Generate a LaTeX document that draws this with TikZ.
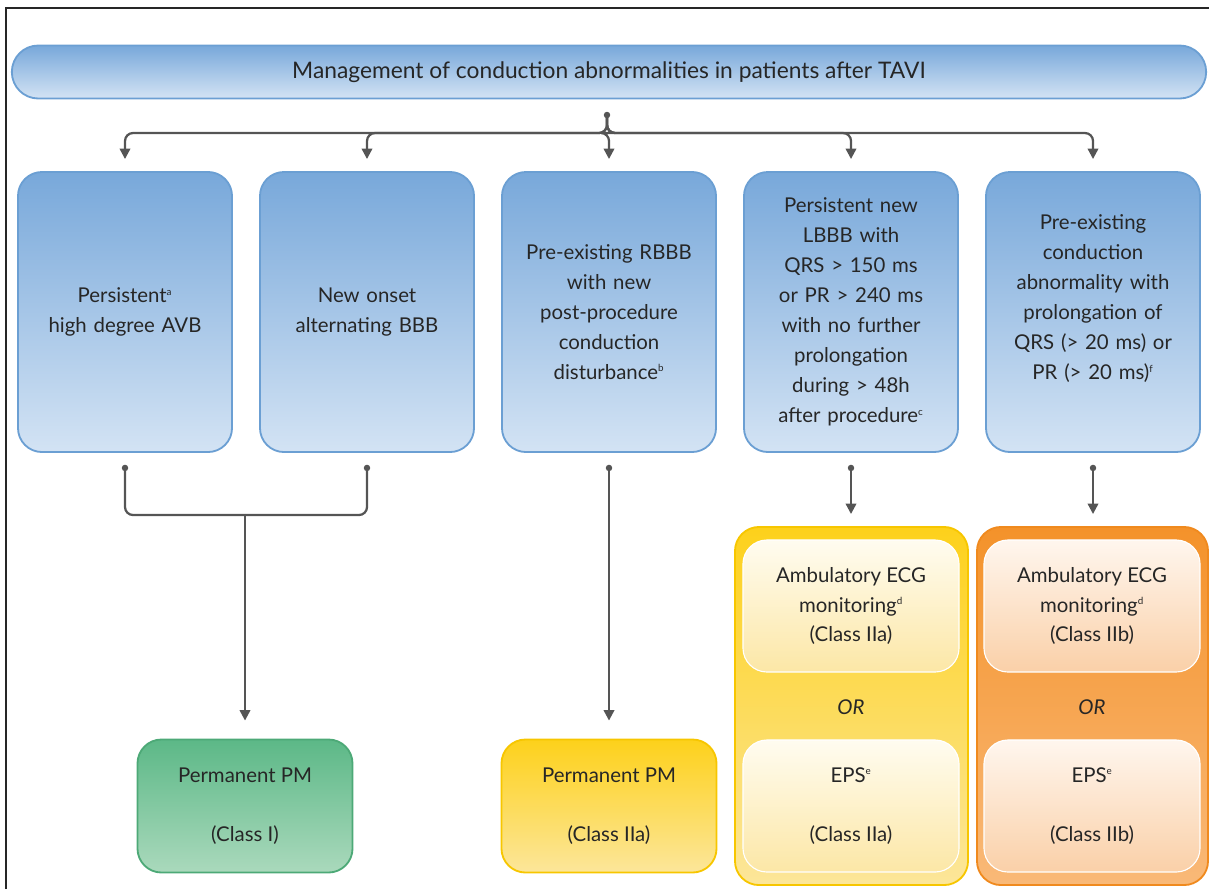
\documentclass[tikz,border=0pt]{standalone}
\usepackage{fontspec}
\setmainfont{Lato}
\usetikzlibrary{positioning,arrows.meta}

\definecolor{blueedge}{HTML}{6B9FD3}
\definecolor{bluetop}{HTML}{78A8DA}
\definecolor{bluebot}{HTML}{D3E3F4}
\definecolor{greenedge}{HTML}{4DA977}
\definecolor{greentop}{HTML}{5CB887}
\definecolor{greenbot}{HTML}{AAD9BC}
\definecolor{yellowedge}{HTML}{F7C600}
\definecolor{yellowtop}{HTML}{FDD11B}
\definecolor{yellowbot}{HTML}{FCE69A}
\definecolor{orangeedge}{HTML}{F08A1E}
\definecolor{orangetop}{HTML}{F4922A}
\definecolor{orangebot}{HTML}{F9B978}
\definecolor{creamtop}{HTML}{FFFCF0}
\definecolor{creambot}{HTML}{FCE7A6}
\definecolor{peachtop}{HTML}{FFF6EE}
\definecolor{peachbot}{HTML}{FAD0A8}
\definecolor{linegray}{HTML}{555555}
\definecolor{textgray}{HTML}{262626}

\newcommand{\flowfont}{\fontsize{14.5}{21.3}\selectfont}
\newcommand{\fnmark}[1]{\textsuperscript{\scriptsize #1}}

\tikzset{
  basebox/.style={line width=1.3pt, rounded corners=0.6cm, align=center, text=textgray, font=\flowfont},
  condbox/.style={basebox, draw=blueedge, top color=bluetop, bottom color=bluebot,
    minimum width=5.35cm, minimum height=7cm, text width=5.1cm},
  pmbox/.style={basebox, minimum width=5.375cm, minimum height=3.325cm},
  groupbox/.style={basebox, minimum height=8.95cm},
  innerbox/.style={basebox, draw=white, line width=0.8pt, minimum width=5.4cm, minimum height=3.3cm},
  conn/.style={draw=linegray, line width=1.6pt, rounded corners=0.2cm},
  arr/.style={conn, -{Triangle[length=7.5pt,width=7.5pt]}},
  dot/.style={fill=linegray}
}

\begin{document}
\begin{tikzpicture}[x=0.025cm, y=-0.025cm]
			\useasboundingbox (0,0) rectangle (1209,889);
			%frame
			\draw[line width=1.5pt, black!85] (6,889) -- (6,8) -- (1209,8);
			
			%title
			\node[basebox, draw=blueedge, top color=bluetop, bottom color=bluebot, rounded corners=0.66cm,
				minimum width=29.85cm, minimum height=1.325cm, font=\fontsize{16.2}{20}\selectfont] (title) at (609,72)
				{Management of conduction abnormalities in patients after TAVI};
			
			%conditions
			\node[condbox] (c1) at (125,312) {Persistent\fnmark{a}\\high degree AVB};
			\node[condbox] (c2) at (367,312) {New onset\\alternating BBB};
			\node[condbox] (c3) at (609,312) {Pre-existing RBBB\\with new\\post-procedure\\conduction\\disturbance\fnmark{b}};
			\node[condbox] (c4) at (851,312) {Persistent new\\LBBB with\\QRS > 150 ms\\or PR > 240 ms\\with no further\\prolongation\\during > 48h\\after procedure\fnmark{c}};
			\node[condbox] (c5) at (1093,312) {Pre-existing\\conduction\\abnormality with\\prolongation of\\QRS (> 20 ms) or\\PR (> 20 ms)\fnmark{f}\\ \mbox{}};
			
			%recommendations
			\node[pmbox, draw=greenedge, top color=greentop, bottom color=greenbot] (pm1) at (245,806) {Permanent PM\\[21pt](Class I)};
			\node[pmbox, draw=yellowedge, top color=yellowtop, bottom color=yellowbot] (pm2) at (609,806) {Permanent PM\\[21pt](Class IIa)};
			
			\node[groupbox, draw=yellowedge, top color=yellowtop, bottom color=yellowbot, minimum width=5.825cm] (g4) at (851.5,706) {};
			\node[groupbox, draw=orangeedge, top color=orangetop, bottom color=orangebot, minimum width=5.775cm] (g5) at (1092.5,706) {};
			
			\node[innerbox, top color=creamtop, bottom color=creambot] (amb4) at (851,606) {Ambulatory ECG\\monitoring\fnmark{d}\\(Class IIa)};
			\node[innerbox, top color=creamtop, bottom color=creambot] (eps4) at (851,806) {EPS\fnmark{e}\\[21pt](Class IIa)};
			\node[innerbox, top color=peachtop, bottom color=peachbot] (amb5) at (1092,606) {Ambulatory ECG\\monitoring\fnmark{d}\\(Class IIb)};
			\node[innerbox, top color=peachtop, bottom color=peachbot] (eps5) at (1092,806) {EPS\fnmark{e}\\[21pt](Class IIb)};
			\node[font=\flowfont\itshape, text=textgray] (or4) at (851,707) {OR};
			\node[font=\flowfont\itshape, text=textgray] (or5) at (1092,707) {OR};
			
			%top split
			\coordinate (split) at (607,115);
			\coordinate (hub) at (607,133);
			\foreach \c in {c1, c2, c3, c4, c5}{
				\draw[arr, shorten >=0.3cm] (split) -- (hub) -| (\c.north);
			}
			\fill[dot] (split) circle (2.3pt);
			
			%bottom links
			\foreach \c in {c1, c2, c3, c4, c5}{
				\coordinate (d\c) at ([yshift=-0.375cm]\c.south);
			}
			\coordinate (join) at (245,515);
			\draw[conn] (dc1) |- (join);
			\draw[conn] (dc2) |- (join);
			\draw[arr, shorten >=0.45cm] (join) -- (pm1.north);
			\draw[arr, shorten >=0.45cm] (dc3) -- (pm2.north);
			\draw[arr, shorten >=0.3cm] (dc4) -- (dc4 |- g4.north);
			\draw[arr, shorten >=0.3cm] (dc5) -- (dc5 |- g5.north);
			\foreach \c in {c1, c2, c3, c4, c5}{
				\fill[dot] (d\c) circle (2.3pt);
			}
		\end{tikzpicture}
\end{document}
